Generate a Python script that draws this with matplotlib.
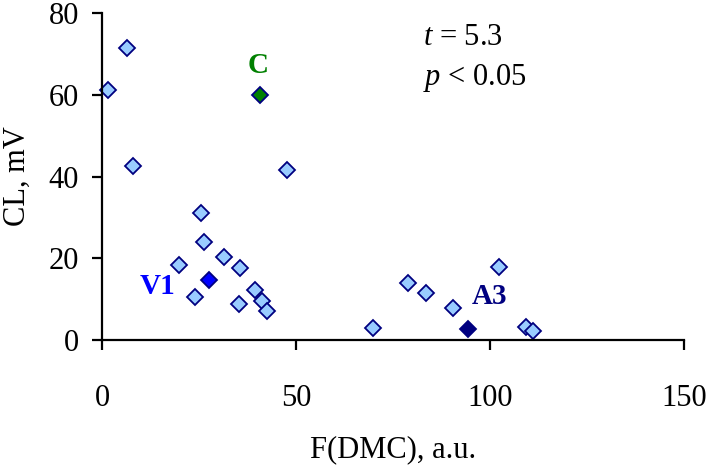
import matplotlib
matplotlib.use("Agg")
import matplotlib.pyplot as plt

plt.rcParams['font.family'] = ['Liberation Serif', 'DejaVu Serif']
plt.rcParams['mathtext.fontset'] = 'custom'
plt.rcParams['mathtext.it'] = 'Liberation Serif:italic'
plt.rcParams['mathtext.rm'] = 'Liberation Serif'

# data
x_vals = [6.4, 1.6, 8.1, 47.6, 25.4, 26.3, 19.9, 31.4, 35.6, 23.9, 35.3, 39.4,
          41.2, 42.4, 69.8, 78.8, 83.4, 90.5, 102.4, 109.3, 111.2]
y_vals = [71.4, 61.1, 42.5, 41.6, 31.1, 23.9, 18.4, 20.2, 17.7, 10.5, 8.8, 12.2,
          9.6, 7.0, 3.0, 14.0, 11.5, 7.8, 17.9, 3.1, 2.1]
special_names = ["C", "V1", "A3"]
special_x = [40.7, 27.7, 94.4]
special_y = [59.9, 14.8, 2.6]
special_colors = ["#008000", "#0000FF", "#000080"]
label_x = [40.2, 14.2, 100.0]
label_y = [67.2, 13.1, 10.6]
x_ticks = [0, 50, 100, 150]
y_ticks = [0, 20, 40, 60, 80]

fig = plt.figure(figsize=(7.09, 4.68), dpi=100)
ax = fig.add_axes([0.1439, 0.2735, 0.8208, 0.6985])

ax.plot(x_vals, y_vals, linestyle='none', marker='D', markersize=8.5,
        markerfacecolor='#99CCFF', markeredgecolor='#000080', markeredgewidth=1.3,
        clip_on=False)
for nm, sx, sy, c, lx, ly in zip(special_names, special_x, special_y, special_colors, label_x, label_y):
    ax.plot([sx], [sy], linestyle='none', marker='D', markersize=8.5,
            markerfacecolor=c, markeredgecolor='#000080', markeredgewidth=1.3,
            clip_on=False)
    ax.text(lx, ly, nm, color=c, fontsize=21, fontweight='bold',
            ha='center', va='center')

ax.text(82.8, 72.3, r"$t$ = 5.3", fontsize=22, ha='left', va='baseline')
ax.text(82.8, 62.3, r"$p$ < 0.05", fontsize=22, ha='left', va='baseline')

ax.set_xlim(0, 150)
ax.set_ylim(0, 80)
ax.set_xticks(x_ticks)
ax.set_yticks(y_ticks)
for s in ['top', 'right']:
    ax.spines[s].set_visible(False)
for s in ['left', 'bottom']:
    ax.spines[s].set_linewidth(1.6)
ax.tick_params(axis='both', direction='out', length=7.5, width=1.6, labelsize=22)
ax.tick_params(axis='x', pad=24)
ax.tick_params(axis='y', pad=9)
ax.set_xlabel("F(DMC), a.u.", fontsize=22, labelpad=16)
ax.set_ylabel("CL, mV", fontsize=22, labelpad=12)

fig.savefig("out.png", dpi=100)
